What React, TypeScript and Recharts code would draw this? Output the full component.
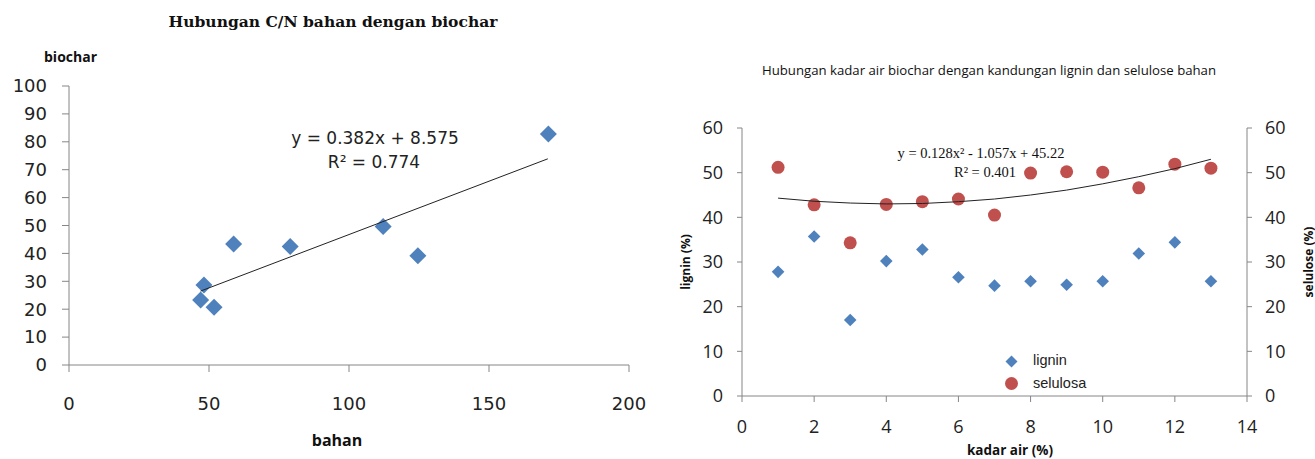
import React from 'react';
import { ScatterChart, Scatter, XAxis, YAxis } from 'recharts';

// left chart: C/N bahan vs biochar
const bahanX = [47, 48.2, 51.8, 58.8, 79, 112.2, 124.6, 171.2];
const biocharY = [23.3, 28.7, 20.7, 43.4, 42.5, 49.6, 39.2, 82.8];
const linTrendX = [47, 171];
const linTrendY = [26.5, 73.9];
const leftXTicks = [0, 50, 100, 150, 200];
const leftYTicks = [0, 10, 20, 30, 40, 50, 60, 70, 80, 90, 100];

// right chart: kadar air vs lignin / selulosa
const kadarAir = [1, 2, 3, 4, 5, 6, 7, 8, 9, 10, 11, 12, 13];
const lignin = [27.8, 35.7, 17.0, 30.2, 32.8, 26.6, 24.7, 25.7, 24.9, 25.7, 31.9, 34.4, 25.7];
const selulosa = [51.2, 42.8, 34.3, 42.9, 43.5, 44.1, 40.5, 49.9, 50.2, 50.1, 46.6, 51.9, 51.0];
const polyTrendY = [44.3, 43.6, 43.2, 43.0, 43.1, 43.5, 44.1, 45.0, 46.1, 47.5, 49.1, 50.9, 53.0];
const rightXTicks = [0, 2, 4, 6, 8, 10, 12, 14];
const rightYTicks = [0, 10, 20, 30, 40, 50, 60];

const BLUE = '#4F81BD';
const RED = '#C0504D';
const AXIS = '#868686';

const bahanData = bahanX.map((x, i) => ({ x, y: biocharY[i] }));
const linTrend = linTrendX.map((x, i) => ({ x, y: linTrendY[i] }));
const ligninData = kadarAir.map((x, i) => ({ x, y: lignin[i] }));
const selulosaData = kadarAir.map((x, i) => ({ x, y: selulosa[i] }));
const polyTrend = kadarAir.map((x, i) => ({ x, y: polyTrendY[i] }));

const diamond = (r: number) => (props: any) => {
  const { cx, cy } = props;
  return <path d={`M${cx},${cy - r}L${cx + r},${cy}L${cx},${cy + r}L${cx - r},${cy}Z`} fill={BLUE} />;
};
const dot = (props: any) => <circle cx={props.cx} cy={props.cy} r={6.5} fill={RED} />;
const noShape = () => <g />;

const abs = (style: React.CSSProperties): React.CSSProperties => ({ position: 'absolute', whiteSpace: 'nowrap', ...style });

export default function App() {
  const leftTick = { fontSize: 18, fill: '#222', fontFamily: 'DejaVu Sans' };
  const rightTick = { fontSize: 18, fill: '#222', fontFamily: 'Open Sans' };
  return (
    <div style={{ position: 'absolute', left: 0, top: 0, width: 1315, height: 459, background: '#fff' }}>
      <div style={{ position: 'absolute', left: 0, top: 0 }}>
        <ScatterChart width={660} height={459} margin={{ top: 86, right: 31, bottom: 0, left: 0 }}>
          <XAxis type="number" dataKey="x" domain={[0, 200]} ticks={leftXTicks} height={94}
            stroke={AXIS} tickSize={7} tickMargin={25} tick={leftTick} />
          <YAxis type="number" dataKey="y" domain={[0, 100]} ticks={leftYTicks} width={69}
            stroke={AXIS} tickSize={7} tickMargin={15} tick={leftTick} />
          <Scatter data={bahanData} shape={diamond(8.5)} isAnimationActive={false} />
          <Scatter data={linTrend} shape={noShape} line={{ stroke: '#222', strokeWidth: 1 }} lineType="joint" isAnimationActive={false} />
        </ScatterChart>
      </div>
      <div style={abs({ left: 333, top: 21, transform: 'translate(-50%,-50%)', fontFamily: 'DejaVu Serif', fontWeight: 'bold', fontSize: 15.5, color: '#111' })}>
        Hubungan C/N bahan dengan biochar
      </div>
      <div style={abs({ left: 44, top: 56, transform: 'translateY(-50%)', fontFamily: 'Open Sans', fontWeight: 'bold', fontSize: 14, color: '#111' })}>biochar</div>
      <div style={abs({ left: 337, top: 440, transform: 'translate(-50%,-50%)', fontFamily: 'Open Sans', fontWeight: 'bold', fontSize: 16, color: '#111' })}>bahan</div>
      <div style={abs({ left: 375, top: 138, transform: 'translate(-50%,-50%)', fontFamily: 'DejaVu Sans', fontSize: 17, color: '#222' })}>y = 0.382x + 8.575</div>
      <div style={abs({ left: 374, top: 162, transform: 'translate(-50%,-50%)', fontFamily: 'DejaVu Sans', fontSize: 17, color: '#222' })}>R² = 0.774</div>

      <div style={{ position: 'absolute', left: 660, top: 0 }}>
        <ScatterChart width={655} height={459} margin={{ top: 128, right: 0, bottom: 0, left: 0 }}>
          <XAxis type="number" dataKey="x" domain={[0, 14]} ticks={rightXTicks} height={63}
            stroke={AXIS} tickSize={6} tickMargin={18} tick={rightTick} />
          <YAxis yAxisId="l" type="number" dataKey="y" domain={[0, 60]} ticks={rightYTicks} width={82}
            stroke={AXIS} tickSize={5} tickMargin={14} tick={rightTick} />
          <YAxis yAxisId="r" orientation="right" type="number" dataKey="y" domain={[0, 60]} ticks={rightYTicks} width={68}
            stroke={AXIS} tickSize={5} tickMargin={13} tick={rightTick} />
          <Scatter yAxisId="l" data={ligninData} shape={diamond(6.3)} isAnimationActive={false} />
          <Scatter yAxisId="r" data={selulosaData} shape={dot} isAnimationActive={false} />
          <Scatter yAxisId="r" data={polyTrend} shape={noShape} line={{ stroke: '#222', strokeWidth: 1 }} lineType="joint" isAnimationActive={false} />
        </ScatterChart>
      </div>
      <div style={abs({ left: 989, top: 70, transform: 'translate(-50%,-50%)', fontFamily: 'Open Sans', fontSize: 13.2, color: '#111' })}>
        Hubungan kadar air biochar dengan kandungan lignin dan selulose bahan
      </div>
      <div style={abs({ left: 981, top: 153, transform: 'translate(-50%,-50%)', fontFamily: 'Liberation Serif', fontSize: 14.5, color: '#111' })}>y = 0.128x² - 1.057x + 45.22</div>
      <div style={abs({ left: 985, top: 172, transform: 'translate(-50%,-50%)', fontFamily: 'Liberation Serif', fontSize: 14.5, color: '#111' })}>R² = 0.401</div>
      <div style={abs({ left: 1010, top: 450, transform: 'translate(-50%,-50%)', fontFamily: 'Open Sans', fontWeight: 'bold', fontSize: 13.5, color: '#111' })}>kadar air (%)</div>
      <div style={abs({ left: 685, top: 262, transform: 'translate(-50%,-50%) rotate(-90deg)', fontFamily: 'Open Sans', fontWeight: 'bold', fontSize: 12, color: '#111' })}>lignin (%)</div>
      <div style={abs({ left: 1308, top: 262, transform: 'translate(-50%,-50%) rotate(-90deg)', fontFamily: 'Open Sans', fontWeight: 'bold', fontSize: 12, color: '#111' })}>selulose (%)</div>

      <svg style={{ position: 'absolute', left: 1004, top: 354 }} width={16} height={38}>
        <path d="M7.5,1.5L13.5,7.5L7.5,13.5L1.5,7.5Z" fill={BLUE} />
        <circle cx={7.5} cy={29.5} r={6.5} fill={RED} />
      </svg>
      <div style={abs({ left: 1033, top: 360, transform: 'translateY(-50%)', fontFamily: 'Liberation Sans', fontSize: 14.5, color: '#222' })}>lignin</div>
      <div style={abs({ left: 1033, top: 383, transform: 'translateY(-50%)', fontFamily: 'Liberation Sans', fontSize: 14.5, color: '#222' })}>selulosa</div>
    </div>
  );
}
